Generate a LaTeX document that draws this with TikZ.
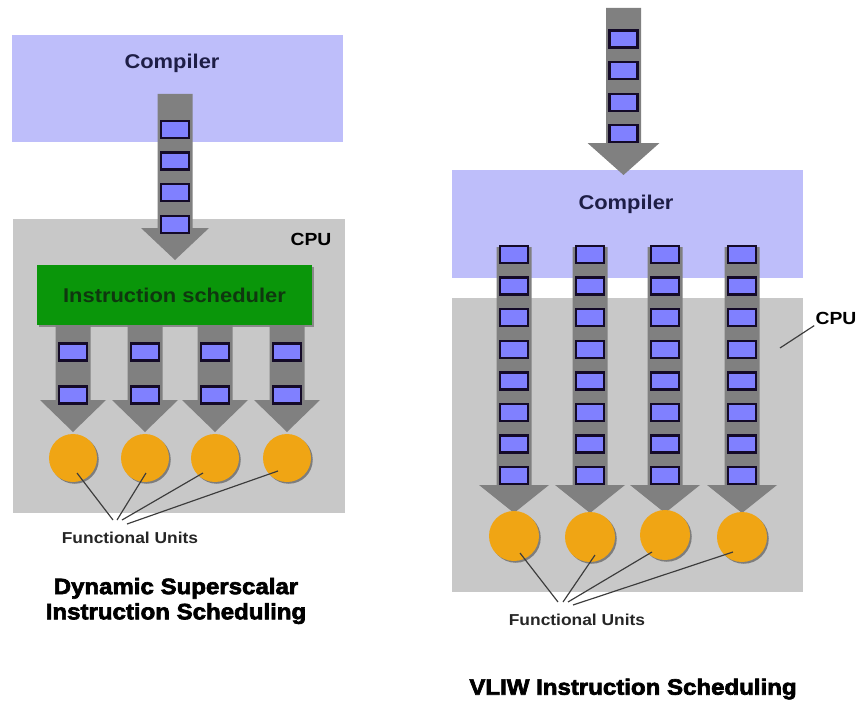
\documentclass[tikz,border=0pt]{standalone}
\usepackage{fontspec}
\setmainfont{Liberation Sans}[FakeStretch=1.1]
\newfontfamily\heavyfont{Liberation Sans}[FakeStretch=1.08, BoldFeatures={FakeBold=3}]
\usetikzlibrary{positioning}
\usetikzlibrary{calc}
\usetikzlibrary{shadows}
\definecolor{compfill}{RGB}{190,190,250}
\definecolor{cpufill}{RGB}{200,200,200}
\definecolor{flowgray}{RGB}{128,128,128}
\definecolor{instrfill}{RGB}{128,128,255}
\definecolor{instrline}{RGB}{20,10,40}
\definecolor{schedgreen}{RGB}{10,150,10}
\definecolor{schedtext}{RGB}{15,55,15}
\definecolor{fuorange}{RGB}{240,165,20}
\definecolor{navytext}{RGB}{30,30,70}
\definecolor{pointgray}{RGB}{60,60,60}
\def\shaft{17.5}
\def\boxsep{31.6}

% gray flow arrow: center x, top y, head y, tip y, half head width
\newcommand{\flowarrow}[5]{%
  \fill[flowgray] ({#1-\shaft},#2) -- ({#1+\shaft},#2) -- ({#1+\shaft},#3) -- ({#1+#5},#3)
    -- (#1,#4) -- ({#1-#5},#3) -- ({#1-\shaft},#3) -- cycle;}

\begin{document}
\begin{tikzpicture}[x=0.03cm, y=-0.03cm]
        \tikzstyle{instr}=[draw=instrline, fill=instrfill, line width=2pt, minimum width=0.84cm, minimum height=0.51cm, inner sep=0pt]
        \tikzstyle{fu}=[circle, fill=fuorange, inner sep=0pt, drop shadow={shadow xshift=1.5pt, shadow yshift=-1.5pt, fill=black!70, opacity=0.6}]
        \tikzstyle{pointer}=[draw=pointgray, line width=1pt]
        \tikzstyle{complabel}=[text=navytext, font=\bfseries\fontsize{17}{20}\selectfont]
        \tikzstyle{cpulabel}=[text=black, font=\bfseries\fontsize{15}{18}\selectfont, inner sep=1pt]
        \tikzstyle{unitlabel}=[text=black!85, font=\bfseries\fontsize{13.5}{16}\selectfont]
        \tikzstyle{caption}=[text=black, align=center, font=\heavyfont\bfseries\fontsize{19}{21.5}\selectfont]

        \useasboundingbox (0,0) rectangle (862,702);

        % Dynamic superscalar: compiler and CPU areas
        \fill[compfill] (12,35) rectangle (343,142);
        \fill[cpufill] (13,219) rectangle (345,513);
        \node[complabel] (comp1) at (172,63) {Compiler};
        \node[cpulabel] (cpu1) at (311,239) {CPU};

        % Draw the incoming instruction stream
        \flowarrow{175}{94}{228}{260}{34}
        \foreach \k in {0,...,3}
            \node[instr] (S-\k) at (175,{129.5+\boxsep*\k}) {};

        % Draw the scheduler
        \node[fill=schedgreen, minimum width=8.25cm, minimum height=1.8cm,
              drop shadow={shadow xshift=2pt, shadow yshift=-2pt, fill=black!70, opacity=0.5},
              text=schedtext, font=\bfseries\fontsize{17}{20}\selectfont] (sched) at (174.5,295) {Instruction scheduler};

        % Draw the issue arrows and functional units
        \foreach \name / \x in {1/73,2/145,3/215,4/287} {
            \flowarrow{\x}{325}{400}{432}{33}
            \node[instr] (L-\name-1) at (\x,352) {};
            \node[instr] (L-\name-2) at (\x,395) {};
            \node[fu, minimum size=1.44cm] (FU-\name) at (\x,458) {};
        }

        % Point the label at the units
        \node[unitlabel] (units1) at (130,538) {Functional Units};
        \foreach \name / \dx / \dy / \ex / \ey in {1/4/15/113/520, 2/1/15/117/520, 3/-12/15/122/520, 4/-9/13/127/524} {
            \coordinate (fuL-\name) at (\ex,\ey);
            \draw[pointer] ($(FU-\name.center)+(\dx,\dy)$) -- (fuL-\name);
        }
        \node[caption] (cap1) at (176,601) {Dynamic Superscalar\\Instruction Scheduling};

        % VLIW: compiler and CPU areas
        \fill[compfill] (452,170) rectangle (803,278);
        \fill[cpufill] (452,298) rectangle (803,592);
        \node[complabel] (comp2) at (626,204) {Compiler};

        % Draw the incoming instruction stream
        \flowarrow{623.5}{8}{143}{175}{36}
        \foreach \k in {0,...,3}
            \node[instr] (V-\k) at (623.5,{39+\boxsep*\k}) {};

        % Draw the long instruction words and functional units
        \foreach \name / \x / \y in {1/514/536,2/590/537,3/665/535,4/742/537} {
            \flowarrow{\x}{247}{485}{513}{35}
            \foreach \k in {0,...,7}
                \node[instr] (R-\name-\k) at (\x,{254.5+\boxsep*\k}) {};
            \node[fu, minimum size=1.5cm] (FU2-\name) at (\x,\y) {};
        }

        % CPU pointer
        \node[cpulabel] (cpu2) at (836,318) {CPU};
        \coordinate (cpuptr) at (780,348);
        \draw[pointer] (cpuptr) -- (cpu2.south west);

        % Point the label at the units
        \node[unitlabel] (units2) at (577,620) {Functional Units};
        \foreach \name / \dx / \dy / \ex / \ey in {1/6/17/558/602, 2/5/18/563/602, 3/-13/17/568/602, 4/-9/15/573/605} {
            \coordinate (fuR-\name) at (\ex,\ey);
            \draw[pointer] ($(FU2-\name.center)+(\dx,\dy)$) -- (fuR-\name);
        }
        \node[caption] (cap2) at (633,689) {VLIW Instruction Scheduling};

\end{tikzpicture}
\end{document}
